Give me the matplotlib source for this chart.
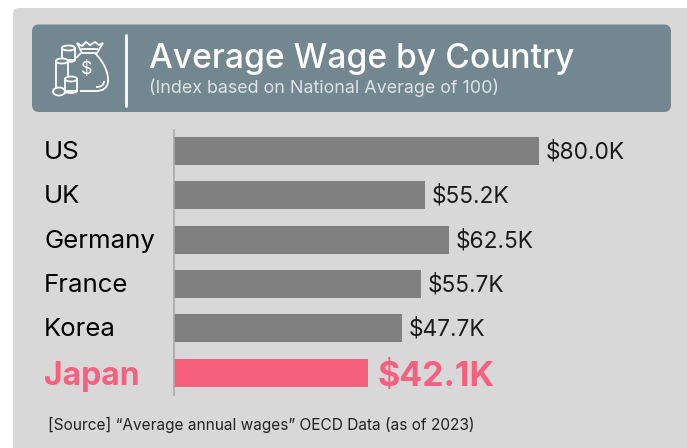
import matplotlib
matplotlib.use('Agg')
import matplotlib.pyplot as plt
from matplotlib.patches import FancyBboxPatch, Ellipse, PathPatch
from matplotlib.path import Path

plt.rcParams['font.family'] = ['Inter', 'DejaVu Sans']

countries = ['US', 'UK', 'Germany', 'France', 'Korea', 'Japan']
# bar lengths as drawn in the picture, they do not quite follow the printed labels
wages = [80.0, 55.0, 60.3, 54.1, 50.0, 42.5]
wage_labels = ['$80.0K', '$55.2K', '$62.5K', '$55.7K', '$47.7K', '$42.1K']

W, H = 687, 448
GRAY = '#808080'
PINK = '#f5607f'
PANEL = '#d8d8d8'
HEADER = '#738791'

fig = plt.figure(figsize=(W / 100, H / 100), dpi=100, facecolor='white')

# background layer in pixel coords
bg = fig.add_axes([0, 0, 1, 1])
bg.set_xlim(0, W)
bg.set_ylim(H, 0)
bg.axis('off')

bg.add_patch(FancyBboxPatch((13, 8), 700, 460, boxstyle='round,pad=0,rounding_size=6',
                            fc=PANEL, ec='none'))
bg.add_patch(FancyBboxPatch((32, 24.5), 639, 87.5, boxstyle='round,pad=0,rounding_size=7',
                            fc=HEADER, ec='none'))
bg.plot([125.5, 125.5], [35, 106], color='white', lw=2, solid_capstyle='round')

# money bag icon
icon = dict(fill=False, ec='white', lw=1.3)
bag = Path([(81, 53), (76, 58), (95, 53), (104, 62), (109, 74), (108, 82), (107, 91), (96, 91), (80, 91)],
           [Path.MOVETO, Path.LINETO, Path.MOVETO, Path.CURVE4, Path.CURVE4, Path.CURVE4,
            Path.CURVE3, Path.CURVE3, Path.LINETO])
bg.add_patch(PathPatch(bag, **icon))
bg.add_patch(PathPatch(Path([(104, 81), (104, 87), (96, 87)], [Path.MOVETO, Path.CURVE3, Path.CURVE3]), **icon))
tie = Path([(77, 43), (82, 46), (86, 42), (90, 45), (95, 42), (99, 45), (103, 43), (97, 53), (82, 53), (77, 43)],
           [Path.MOVETO] + [Path.LINETO] * 9)
bg.add_patch(PathPatch(tie, **icon))
bg.plot([82, 97], [49, 49], color='white', lw=1.3)
# coin stacks
for x0, x1, top, bot in [(62, 75, 48, 60), (56, 68, 61, 91), (65, 77, 79, 91)]:
    bg.add_patch(plt.Rectangle((x0, top), x1 - x0, bot - top, fc=HEADER, ec='white', lw=1.3, zorder=3))
    bg.add_patch(Ellipse(((x0 + x1) / 2, top), x1 - x0, 5, fc=HEADER, ec='white', lw=1.3, zorder=4))
    bg.add_patch(Ellipse(((x0 + x1) / 2, bot), x1 - x0, 4, fc=HEADER, ec='white', lw=1.3, zorder=2))
bg.add_patch(Ellipse((59, 91.5), 12, 8, fc=HEADER, ec='white', lw=1.3, zorder=5))
bg.text(86.5, 70, '$', color='white', fontsize=13, ha='center', va='center')

bg.text(149, 59, 'Average Wage by Country', color='white', fontsize=24.2, ha='left', va='center',
        fontweight='medium')
bg.text(149, 88, '(Index based on National Average of 100)', color='#dde2e5', fontsize=12.9,
        ha='left', va='center')
bg.text(48, 424.5, '[Source] \u201cAverage annual wages\u201d OECD Data (as of 2023)', color='#222222',
        fontsize=11.1, ha='left', va='center')

# chart axes, x 174-650 px, y 130-395 px
ax = fig.add_axes([174 / W, 1 - 395 / H, 476 / W, 265 / H])
ax.patch.set_alpha(0)
colors = [GRAY] * 5 + [PINK]
ax.barh(countries, wages, height=0.632, color=colors)
ax.set_xlim(0, 476 / 4.5625)
ax.set_ylim(5.507, -0.474)
ax.xaxis.set_visible(False)
for s in ['top', 'right', 'bottom']:
    ax.spines[s].set_visible(False)
ax.spines['left'].set_color('#a8a8a8')
ax.spines['left'].set_linewidth(1.2)
ax.tick_params(axis='y', length=0, pad=0)
ax.set_yticks(range(len(countries)))
ax.set_yticklabels([])

for i, (c, v, lab) in enumerate(zip(countries, wages, wage_labels)):
    hi = c == 'Japan'
    # country names sit left of the axis, at pixel x=44
    ax.annotate(c, xy=(0, i), xycoords='data', xytext=(44, -2.5 if hi else -1),
                textcoords=('figure pixels', 'offset points'),
                color=PINK if hi else 'black', fontsize=23 if hi else 18.6,
                fontweight='bold' if hi else 'normal', ha='left', va='center')
    ax.annotate(lab, xy=(v, i), xytext=(7 if hi else 5, -3 if hi else -1), textcoords='offset points',
                color=PINK if hi else '#1a1a1a', fontsize=24.5 if hi else 16.3,
                fontweight='bold' if hi else 'normal', ha='left', va='center')

fig.savefig('out.png', dpi=100, facecolor='white')
